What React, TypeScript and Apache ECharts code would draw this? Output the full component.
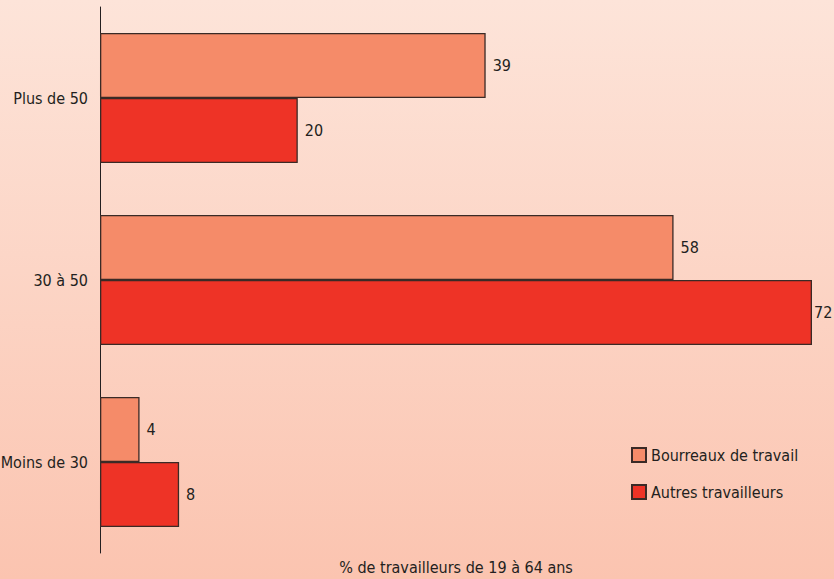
import React, { useEffect, useRef } from "react";
import * as echarts from "echarts";

const categories = ["Plus de 50", "30 à 50", "Moins de 30"];
const seriesNames = ["Bourreaux de travail", "Autres travailleurs"];
const bourreaux = [39, 58, 4];
const autres = [20, 72, 8];
const xTitle = "% de travailleurs de 19 à 64 ans";
const X_MAX = 72;

const FONT = "DejaVu Sans Condensed";
const FS = 16;
const TXT = "#231f20";

export default function App() {
  const ref = useRef<HTMLDivElement>(null);
  useEffect(() => {
    if (!ref.current) return;
    const chart = echarts.init(ref.current, null, { renderer: "svg" });
    const label = {
      show: true,
      position: "right",
      distance: 7,
      color: TXT,
      fontFamily: FONT,
      fontSize: FS,
    };
    // the bar reaching the right edge gets a tighter label so its text stays on the page
    const fit = (vals: number[]) =>
      vals.map((v) => (v >= X_MAX ? { value: v, label: { distance: 2 } } : v));
    chart.setOption({
      animation: false,
      backgroundColor: {
        type: "linear",
        x: 0,
        y: 0,
        x2: 0,
        y2: 1,
        colorStops: [
          { offset: 0, color: "#fde4d9" },
          { offset: 1, color: "#fbc4b0" },
        ],
      },
      textStyle: { fontFamily: FONT },
      grid: {
        left: 100,
        right: 22,
        top: 7,
        bottom: 26,
        containLabel: false,
        outerBoundsMode: "none",
      },
      legend: {
        orient: "vertical",
        left: 626,
        top: 442,
        itemWidth: 14,
        itemHeight: 14,
        itemGap: 21,
        icon: "rect",
        textStyle: { color: TXT, fontFamily: FONT, fontSize: FS },
        data: seriesNames,
      },
      xAxis: {
        type: "value",
        min: 0,
        max: X_MAX,
        show: false,
      },
      yAxis: {
        type: "category",
        data: categories,
        inverse: true,
        axisLine: { show: true, lineStyle: { color: TXT, width: 1 } },
        axisTick: { show: false },
        axisLabel: { color: TXT, fontFamily: FONT, fontSize: FS, margin: 12 },
      },
      series: [
        {
          name: seriesNames[0],
          type: "bar",
          data: fit(bourreaux),
          barCategoryGap: "28.6%",
          barGap: "0%",
          itemStyle: { color: "#f58b69", borderColor: "#3a2a26", borderWidth: 1.3 },
          label,
        },
        {
          name: seriesNames[1],
          type: "bar",
          data: fit(autres),
          barCategoryGap: "28.6%",
          barGap: "0%",
          itemStyle: { color: "#ee3326", borderColor: "#3a2a26", borderWidth: 1.3 },
          label,
        },
      ],
      graphic: [
        {
          type: "text",
          x: 456,
          y: 567,
          style: {
            text: xTitle,
            fill: TXT,
            font: `${FS}px "${FONT}"`,
            align: "center",
            verticalAlign: "middle",
          },
        },
      ],
    });
    return () => chart.dispose();
  }, []);
  return (
    <div
      ref={ref}
      style={{ position: "fixed", left: 0, top: 0, width: 834, height: 579 }}
    />
  );
}
